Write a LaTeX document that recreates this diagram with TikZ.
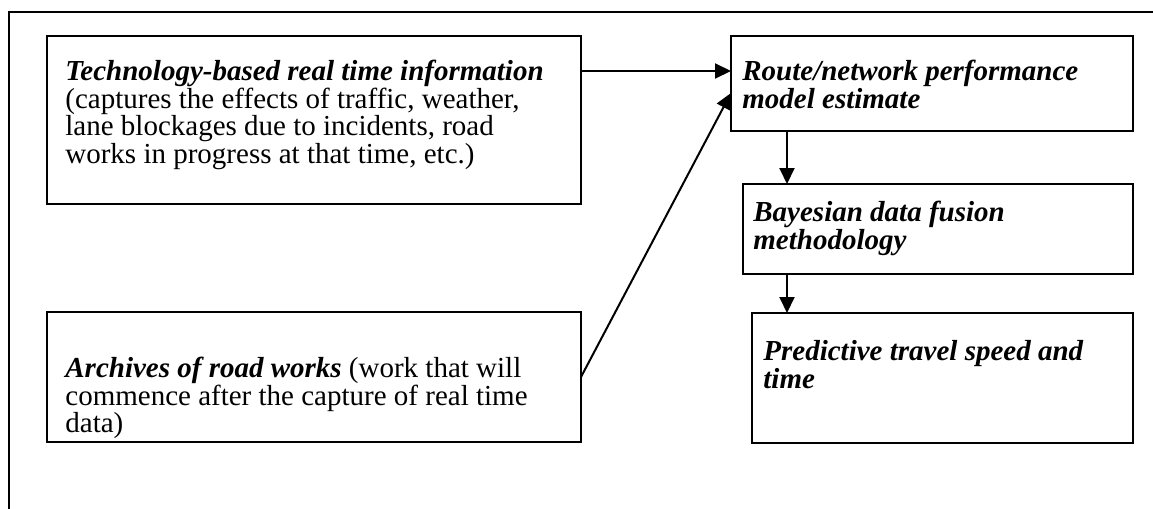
\documentclass[tikz,border=0pt]{standalone}
\usepackage{fontspec}
\setmainfont{Liberation Serif}
\usetikzlibrary{arrows.meta}
\tikzset{
  box/.style={draw, line width=1pt, anchor=north west, inner sep=0pt, outer sep=0pt},
  txt/.style={anchor=north west, inner sep=0pt, align=left},
  arr/.style={line width=1pt, -{Triangle[length=8pt, width=7.5pt]}},
  frame/.style={line width=1pt}
}
\newcommand{\bi}[1]{\textbf{\textit{#1}}}
\begin{document}
\fontsize{14.5}{13.75}\selectfont
\lineskiplimit=-20pt
\begin{tikzpicture}[x=0.5pt, y=-0.5pt]
\useasboundingbox (0,0) rectangle (1153,509);
% outer frame (top and left edges)
\draw[frame] (9,509) -- (9,12) -- (1153,12);

% boxes
\node[box, minimum width=267pt, minimum height=84pt] (tech) at (47,36) {};
\node[box, minimum width=267pt, minimum height=65pt] (arch) at (47,312) {};
\node[box, minimum width=201pt, minimum height=47.5pt] (route) at (731,36) {};
\node[box, minimum width=195pt, minimum height=45pt] (bayes) at (743,184) {};
\node[box, minimum width=190.5pt, minimum height=65pt] (pred) at (752,313) {};

% box texts
\node[txt] (techtxt) at (65,60) {\strut\bi{Technology-based real time information}\\(captures the effects of traffic, weather,\\lane blockages due to incidents, road\\works in progress at that time, etc.)};
\node[txt] (archtxt) at (65,357) {\strut\bi{Archives of road works} (work that will\\commence after the capture of real time\\data)};
\node[txt] (routetxt) at (742,60) {\strut\bi{Route/network performance}\\\bi{model estimate}};
\node[txt] (bayestxt) at (753,201) {\strut\bi{Bayesian data fusion}\\\bi{methodology}};
\node[txt] (predtxt) at (763,340) {\strut\bi{Predictive travel speed and}\\\bi{time}};

% connectors
\draw[arr] (tech.east |- 0,71) -- (route.west |- 0,71);
\draw[arr] (arch.east |- 0,377) -- (route.west |- 0,93);
\draw[arr] (route.south -| 787,0) -- (bayes.north -| 787,0);
\draw[arr] (bayes.south -| 787,0) -- (pred.north -| 787,0);
\end{tikzpicture}
\end{document}
